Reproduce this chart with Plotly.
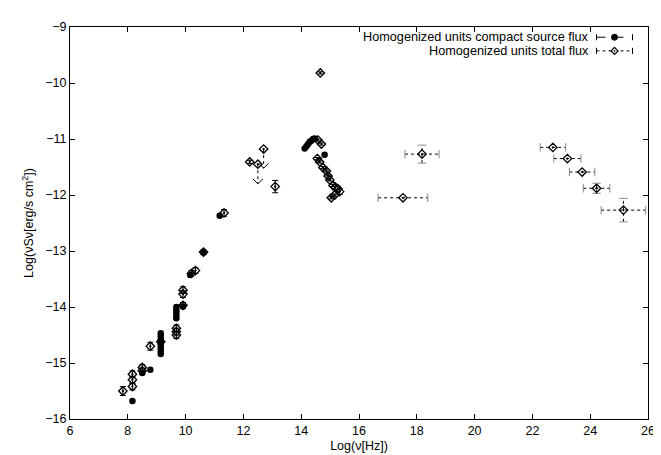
import plotly.graph_objects as go

# ---------------- data ----------------
# compact source flux (filled circles)
compact_x = [8.16, 8.50, 8.78, 9.14, 9.14, 9.14, 9.14, 9.14, 9.14, 9.14, 9.14,
             9.68, 9.68, 9.68, 9.68, 9.68, 9.91, 10.16, 10.62, 11.18,
             14.12, 14.18, 14.24, 14.30, 14.35, 14.41, 14.47, 14.81]
compact_y = [-15.68, -15.18, -15.12, -14.47, -14.52, -14.58, -14.63, -14.68, -14.73, -14.79, -14.84,
             -14.00, -14.05, -14.10, -14.15, -14.20, -13.99, -13.43, -13.03, -12.37,
             -11.17, -11.13, -11.09, -11.05, -11.03, -11.00, -10.99, -11.28]
compact_yerr = [0.03] * len(compact_x)

# total flux (open diamonds), radio to UV
total_x = [7.83, 8.16, 8.16, 8.16, 8.50, 8.50, 8.78, 9.14, 9.68, 9.68, 9.68, 9.91, 9.91, 9.91,
           10.20, 10.34, 10.62, 11.33, 12.22, 13.10,
           14.58, 14.70, 14.66, 14.56, 14.64, 14.75, 14.87, 14.93, 14.99,
           15.10, 15.18, 15.27, 15.33, 15.16, 15.04]
total_y = [-15.50, -15.42, -15.30, -15.20, -15.08, -15.14, -14.70, -14.62, -14.38, -14.44, -14.50,
           -13.97, -13.70, -13.77, -13.40, -13.35, -13.02, -12.32, -11.41, -11.85,
           -11.02, -11.09, -9.82, -11.35, -11.41, -11.51, -11.57, -11.66, -11.73,
           -11.83, -11.86, -11.89, -11.94, -12.00, -12.05]
total_yerr = [0.08, 0.06, 0.06, 0.06, 0.05, 0.05, 0.07, 0.05, 0.06, 0.06, 0.06,
              0.05, 0.06, 0.06, 0.05, 0.05, 0.04, 0.06, 0.03, 0.11,
              0.02, 0.02, 0.02, 0.02, 0.02, 0.02, 0.02, 0.02, 0.02,
              0.02, 0.05, 0.05, 0.05, 0.02, 0.02]

# total flux, X-ray and gamma-ray points with dotted error bars
he_x = [17.52, 18.18, 22.71, 23.21, 23.72, 24.22, 25.15]
he_y = [-12.05, -11.27, -11.15, -11.35, -11.59, -11.88, -12.27]
he_xerr = [0.86, 0.59, 0.44, 0.47, 0.44, 0.46, 0.77]
he_yerr = [0.0, 0.16, 0.0, 0.0, 0.0, 0.09, 0.21]

# upper limits (total flux)
ul_x = [12.50, 12.70]
ul_y = [-11.45, -11.18]
ul_lim = [-11.80, -11.52]

x_ticks = list(range(6, 27, 2))
y_ticks = list(range(-16, -8))
legend_labels = ["Homogenized units compact source flux", "Homogenized units total flux"]

FONT = "Liberation Sans, Arial, sans-serif"

# plot-area geometry (pixels)
W_L, W_R, H_T, H_B = 62, 21, 14, 39
plot_w = 661 - W_L - W_R
plot_h = 455 - H_T - H_B
X_RANGE = [6, 26]
Y_RANGE = [-16, -9]
px_x = (X_RANGE[1] - X_RANGE[0]) / plot_w   # data units per pixel
px_y = (Y_RANGE[1] - Y_RANGE[0]) / plot_h

fig = go.Figure()

# dotted error bars for high-energy points
seg_x, seg_y = [], []
capx_x, capx_y = [], []
for x, y, ex in zip(he_x, he_y, he_xerr):
    seg_x += [x - ex, x + ex, None]
    seg_y += [y, y, None]
    capx_x += [x - ex, x + ex]
    capx_y += [y, y]
vseg_x, vseg_y = [], []
capy_x, capy_y = [], []
for x, y, ey in zip(he_x, he_y, he_yerr):
    if ey > 0:
        vseg_x += [x, x, None]
        vseg_y += [y - ey, y + ey, None]
        capy_x += [x, x]
        capy_y += [y - ey, y + ey]

fig.add_trace(go.Scatter(x=seg_x, y=seg_y, mode="lines",
                         line=dict(color="black", width=1, dash="dot"),
                         hoverinfo="skip", showlegend=False))
fig.add_trace(go.Scatter(x=vseg_x, y=vseg_y, mode="lines",
                         line=dict(color="black", width=1, dash="dot"),
                         hoverinfo="skip", showlegend=False))
fig.add_trace(go.Scatter(x=capx_x, y=capx_y, mode="markers",
                         marker=dict(symbol="line-ns", size=6, line=dict(color="#888", width=1)),
                         hoverinfo="skip", showlegend=False))
fig.add_trace(go.Scatter(x=capy_x, y=capy_y, mode="markers",
                         marker=dict(symbol="line-ew", size=6, line=dict(color="#888", width=1)),
                         hoverinfo="skip", showlegend=False))

# upper limit dotted lines + V-shaped arrow heads
ulx_line, uly_line = [], []
vx, vy = [], []
for x, y, lim in zip(ul_x, ul_y, ul_lim):
    ulx_line += [x, x, None]
    uly_line += [y, lim, None]
    vx += [x - 5 * px_x, x, x + 5 * px_x, None]
    vy += [lim + 5 * px_y, lim, lim + 5 * px_y, None]
fig.add_trace(go.Scatter(x=ulx_line, y=uly_line, mode="lines",
                         line=dict(color="black", width=1, dash="dot"),
                         hoverinfo="skip", showlegend=False))
fig.add_trace(go.Scatter(x=vx, y=vy, mode="lines",
                         line=dict(color="black", width=1),
                         hoverinfo="skip", showlegend=False))

# compact source flux
fig.add_trace(go.Scatter(x=compact_x, y=compact_y, mode="markers", name=legend_labels[0],
                         marker=dict(symbol="circle", size=6.5, color="black"),
                         error_y=dict(type="data", array=compact_yerr, color="black",
                                      thickness=1, width=2),
                         showlegend=False))

# total flux
diamond = dict(symbol="diamond-open-dot", size=6.5, color="black", line=dict(width=1.3))
fig.add_trace(go.Scatter(x=total_x, y=total_y, mode="markers", name=legend_labels[1],
                         marker=diamond,
                         error_y=dict(type="data", array=total_yerr, color="black",
                                      thickness=1, width=3),
                         showlegend=False))
fig.add_trace(go.Scatter(x=he_x, y=he_y, mode="markers", marker=diamond, showlegend=False))
fig.add_trace(go.Scatter(x=ul_x, y=ul_y, mode="markers", marker=diamond, showlegend=False))

# ---------- gnuplot-style legend (text left, sample right) ----------
text_right = (582 - W_L) / plot_w
sample_cx = (606.5 - W_L) / plot_w
rows = [(416 - 24.5) / plot_h, (416 - 38.5) / plot_h]
dashes = ["dash", "dot"]

annotations = []
shapes = []
for label, yp, dsh, k in zip(legend_labels, rows, dashes, range(2)):
    annotations.append(dict(x=text_right, y=yp, xref="paper", yref="paper",
                            text=label, showarrow=False, xanchor="right", yanchor="middle",
                            borderpad=0,
                            font=dict(family=FONT, size=12.7, color="black")))
    base = dict(xref="paper", yref="paper", xsizemode="pixel", ysizemode="pixel",
                xanchor=sample_cx, yanchor=yp)
    shapes.append(dict(type="line", x0=-18, x1=18, y0=0, y1=0,
                       line=dict(color="black", width=1, dash=dsh), **base))
    for cx in (-18, 18):
        shapes.append(dict(type="line", x0=cx, x1=cx, y0=-3, y1=3,
                           line=dict(color="black", width=1), **base))
    if k == 0:
        shapes.append(dict(type="circle", x0=-3, x1=3, y0=-3, y1=3,
                           fillcolor="black", line=dict(color="black", width=1), **base))
    else:
        shapes.append(dict(type="path", path="M0,3.5 L3.5,0 L0,-3.5 L-3.5,0 Z",
                           fillcolor="white", line=dict(color="black", width=1.3), **base))
        shapes.append(dict(type="circle", x0=-0.7, x1=0.7, y0=-0.7, y1=0.7,
                           fillcolor="black", line=dict(color="black", width=0.5), **base))

axis_common = dict(showline=True, linecolor="black", linewidth=1, mirror="ticks",
                   ticks="inside", ticklen=5, tickcolor="black", showgrid=False,
                   zeroline=False, tickfont=dict(family=FONT, size=12.5, color="black"))

fig.update_layout(
    width=661, height=455,
    margin=dict(l=W_L, r=W_R, t=H_T, b=H_B),
    paper_bgcolor="white", plot_bgcolor="white",
    font=dict(family=FONT, size=12.5, color="black"),
    xaxis=dict(range=X_RANGE, tickvals=x_ticks,
               title=dict(text="Log(ν[Hz])", font=dict(family=FONT, size=12.5), standoff=4),
               **axis_common),
    yaxis=dict(range=Y_RANGE, tickvals=y_ticks,
               title=dict(text="Log(νSν[erg/s cm<sup>2</sup>])", font=dict(family=FONT, size=12.5),
                          standoff=8),
               **axis_common),
    annotations=annotations,
    shapes=shapes,
    showlegend=False,
)

fig.write_html("out.html")
